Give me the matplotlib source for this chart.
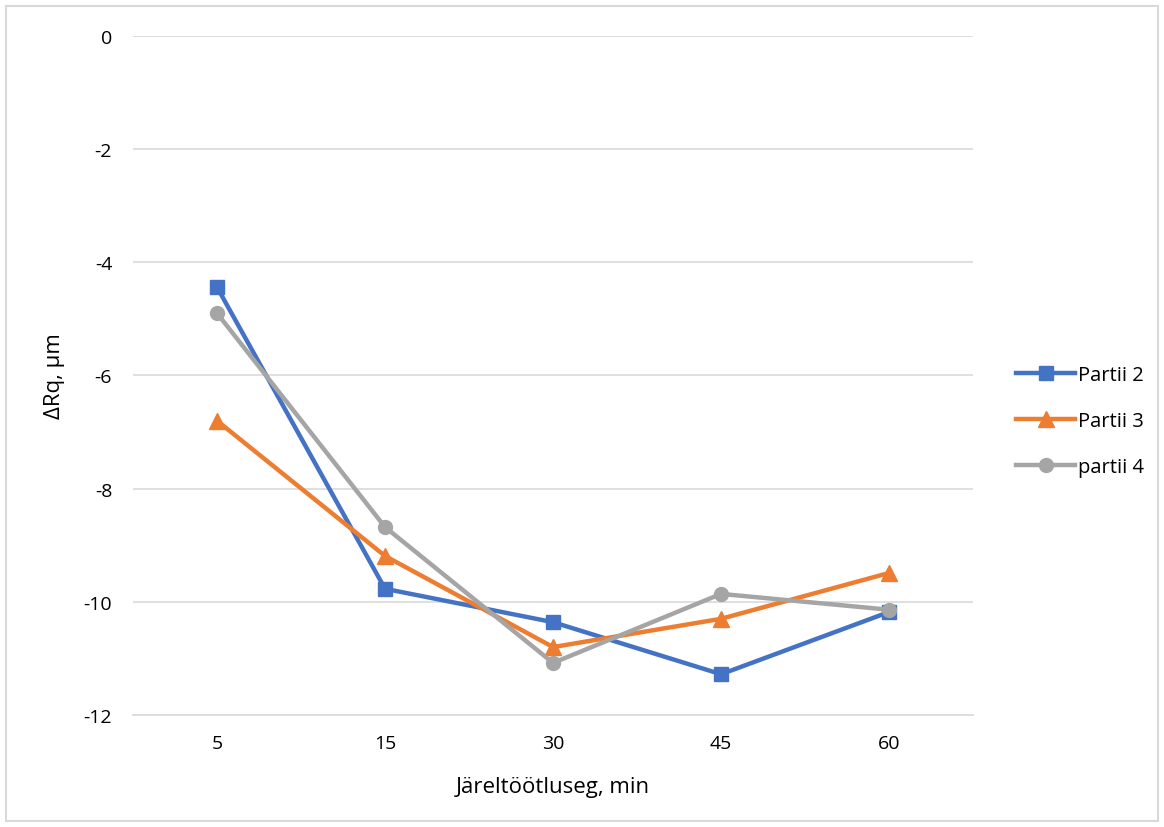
import matplotlib
matplotlib.use('Agg')
from matplotlib import pyplot as plt
from matplotlib.patches import Rectangle

plt.rcParams['font.family'] = ['Open Sans', 'DejaVu Sans']
plt.rcParams['axes.unicode_minus'] = False

labels = ['5', '15', '30', '45', '60']
partii2 = [-4.44, -9.77, -10.36, -11.28, -10.18]
partii3 = [-6.80, -9.19, -10.80, -10.30, -9.49]
partii4 = [-4.90, -8.68, -11.08, -9.86, -10.14]

fig = plt.figure(figsize=(11.64, 8.28), dpi=100)
ax = fig.add_axes([0.1143, 0.1353, 0.7217, 0.82])

x = range(len(labels))
ax.plot(x, partii2, color='#4472C4', lw=3.2, marker='s', ms=10, label='Partii 2')
ax.plot(x, partii3, color='#ED7D31', lw=3.2, marker='^', ms=11, label='Partii 3')
ax.plot(x, partii4, color='#A5A5A5', lw=3.2, marker='o', ms=10, label='partii 4')

ax.set_xlim(-0.5, len(labels) - 0.5)
ax.set_ylim(-12, 0)
ax.set_yticks(range(-12, 1, 2))
ax.set_xticks(list(x))
ax.set_xticklabels(labels)
ax.grid(axis='y', color='#D9D9D9', lw=1.2)
ax.set_axisbelow(True)
for s in ['top', 'right', 'left']:
    ax.spines[s].set_visible(False)
ax.spines['bottom'].set_color('#D9D9D9')
ax.spines['bottom'].set_linewidth(1.2)
ax.tick_params(length=0, labelsize=14, colors='#000000', pad=14)
ax.tick_params(axis='y', pad=15)
ax.set_xlabel('Järeltöötluseg, min', fontsize=16, labelpad=17)
ax.set_ylabel('ΔRq, µm', fontsize=16)
ax.yaxis.set_label_coords(-0.081, 0.5)

ax.legend(loc='center left', bbox_to_anchor=(1.03, 0.433), frameon=False,
          fontsize=14.5, handlelength=2.9, handletextpad=0.15, labelspacing=1.3)

fig.patches.append(Rectangle((0.005, 0.007), 0.99, 0.985, transform=fig.transFigure,
                             fill=False, edgecolor='#D9D9D9', lw=1.5))

plt.savefig('out.png')
